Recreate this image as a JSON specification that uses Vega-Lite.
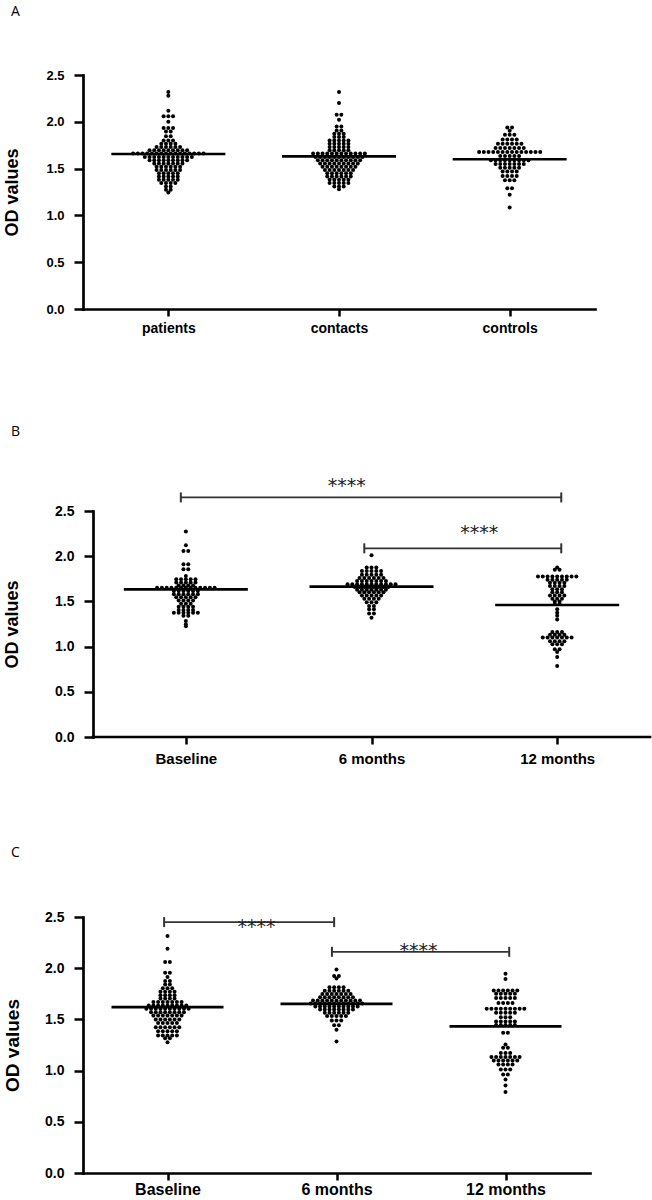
{
  "$schema": "https://vega.github.io/schema/vega-lite/v6.json",
  "background": "white",
  "padding": {"left": 2, "top": 5, "right": 0, "bottom": 0},
  "config": {
    "view": {"stroke": null},
    "axis": {"grid": false, "domainColor": "black", "domainWidth": 2.7, "domainCap": "square", "tickColor": "black", "tickWidth": 2.5, "labelFont": "Liberation Sans", "labelFontWeight": "bold", "labelColor": "black", "labelFlush": false, "labelOverlap": false, "titleFont": "Liberation Sans", "titleFontWeight": "bold", "titleColor": "black"},
    "axisX": {"tickSize": 7, "labelPadding": 5},
    "axisY": {"tickSize": 9, "labelPadding": 10, "titleBaseline": "middle"},
    "title": {"anchor": "start", "frame": "bounds", "fontSize": 14, "fontWeight": "normal", "font": "Open Sans", "color": "black"}
  },
  "datasets": {
    "ptsA": [
      {"g":"patients","v":2.318},{"g":"patients","v":2.279},{"g":"patients","v":2.118},{"g":"patients","v":2.058},{"g":"patients","v":2.058},{"g":"patients","v":2.058},{"g":"patients","v":2.0},{"g":"patients","v":1.934},{"g":"patients","v":1.934},{"g":"patients","v":1.934},{"g":"patients","v":1.897},{"g":"patients","v":1.897},{"g":"patients","v":1.846},{"g":"patients","v":1.846},
      {"g":"patients","v":1.8},{"g":"patients","v":1.8},{"g":"patients","v":1.8},
      {"g":"patients","v":1.765},{"g":"patients","v":1.765},{"g":"patients","v":1.765},{"g":"patients","v":1.765},
      {"g":"patients","v":1.73},{"g":"patients","v":1.73},{"g":"patients","v":1.73},{"g":"patients","v":1.73},{"g":"patients","v":1.73},{"g":"patients","v":1.73},
      {"g":"patients","v":1.695},{"g":"patients","v":1.695},{"g":"patients","v":1.695},{"g":"patients","v":1.695},{"g":"patients","v":1.695},{"g":"patients","v":1.695},{"g":"patients","v":1.695},{"g":"patients","v":1.695},{"g":"patients","v":1.695},
      {"g":"patients","v":1.66},{"g":"patients","v":1.66},{"g":"patients","v":1.66},{"g":"patients","v":1.66},{"g":"patients","v":1.66},{"g":"patients","v":1.66},{"g":"patients","v":1.66},{"g":"patients","v":1.66},{"g":"patients","v":1.66},{"g":"patients","v":1.66},{"g":"patients","v":1.66},{"g":"patients","v":1.66},{"g":"patients","v":1.66},{"g":"patients","v":1.66},{"g":"patients","v":1.66},{"g":"patients","v":1.66},
      {"g":"patients","v":1.625},{"g":"patients","v":1.625},{"g":"patients","v":1.625},{"g":"patients","v":1.625},{"g":"patients","v":1.625},{"g":"patients","v":1.625},{"g":"patients","v":1.625},{"g":"patients","v":1.625},{"g":"patients","v":1.625},{"g":"patients","v":1.625},{"g":"patients","v":1.625},
      {"g":"patients","v":1.59},{"g":"patients","v":1.59},{"g":"patients","v":1.59},{"g":"patients","v":1.59},{"g":"patients","v":1.59},{"g":"patients","v":1.59},{"g":"patients","v":1.59},{"g":"patients","v":1.59},{"g":"patients","v":1.59},
      {"g":"patients","v":1.555},{"g":"patients","v":1.555},{"g":"patients","v":1.555},{"g":"patients","v":1.555},{"g":"patients","v":1.555},{"g":"patients","v":1.555},{"g":"patients","v":1.555},
      {"g":"patients","v":1.52},{"g":"patients","v":1.52},{"g":"patients","v":1.52},{"g":"patients","v":1.52},{"g":"patients","v":1.52},{"g":"patients","v":1.52},
      {"g":"patients","v":1.485},{"g":"patients","v":1.485},{"g":"patients","v":1.485},{"g":"patients","v":1.485},{"g":"patients","v":1.485},{"g":"patients","v":1.485},
      {"g":"patients","v":1.45},{"g":"patients","v":1.45},{"g":"patients","v":1.45},{"g":"patients","v":1.45},{"g":"patients","v":1.45},
      {"g":"patients","v":1.415},{"g":"patients","v":1.415},{"g":"patients","v":1.415},{"g":"patients","v":1.415},{"g":"patients","v":1.415},
      {"g":"patients","v":1.38},{"g":"patients","v":1.38},{"g":"patients","v":1.38},{"g":"patients","v":1.38},{"g":"patients","v":1.38},
      {"g":"patients","v":1.345},{"g":"patients","v":1.345},{"g":"patients","v":1.345},{"g":"patients","v":1.345},
      {"g":"patients","v":1.31},{"g":"patients","v":1.31},{"g":"patients","v":1.275},{"g":"patients","v":1.275},{"g":"patients","v":1.245},
      {"g":"contacts","v":2.318},{"g":"contacts","v":2.2},{"g":"contacts","v":2.076},{"g":"contacts","v":2.076},{"g":"contacts","v":2.022},{"g":"contacts","v":1.95},{"g":"contacts","v":1.95},{"g":"contacts","v":1.908},{"g":"contacts","v":1.908},
      {"g":"contacts","v":1.873},{"g":"contacts","v":1.873},{"g":"contacts","v":1.873},{"g":"contacts","v":1.838},{"g":"contacts","v":1.838},{"g":"contacts","v":1.838},
      {"g":"contacts","v":1.8},{"g":"contacts","v":1.8},{"g":"contacts","v":1.8},{"g":"contacts","v":1.8},{"g":"contacts","v":1.8},
      {"g":"contacts","v":1.765},{"g":"contacts","v":1.765},{"g":"contacts","v":1.765},{"g":"contacts","v":1.765},{"g":"contacts","v":1.765},
      {"g":"contacts","v":1.73},{"g":"contacts","v":1.73},{"g":"contacts","v":1.73},{"g":"contacts","v":1.73},{"g":"contacts","v":1.73},
      {"g":"contacts","v":1.695},{"g":"contacts","v":1.695},{"g":"contacts","v":1.695},{"g":"contacts","v":1.695},{"g":"contacts","v":1.695},
      {"g":"contacts","v":1.66},{"g":"contacts","v":1.66},{"g":"contacts","v":1.66},{"g":"contacts","v":1.66},{"g":"contacts","v":1.66},{"g":"contacts","v":1.66},{"g":"contacts","v":1.66},{"g":"contacts","v":1.66},{"g":"contacts","v":1.66},{"g":"contacts","v":1.66},{"g":"contacts","v":1.66},{"g":"contacts","v":1.66},
      {"g":"contacts","v":1.625},{"g":"contacts","v":1.625},{"g":"contacts","v":1.625},{"g":"contacts","v":1.625},{"g":"contacts","v":1.625},{"g":"contacts","v":1.625},{"g":"contacts","v":1.625},{"g":"contacts","v":1.625},{"g":"contacts","v":1.625},{"g":"contacts","v":1.625},{"g":"contacts","v":1.625},
      {"g":"contacts","v":1.59},{"g":"contacts","v":1.59},{"g":"contacts","v":1.59},{"g":"contacts","v":1.59},{"g":"contacts","v":1.59},{"g":"contacts","v":1.59},{"g":"contacts","v":1.59},{"g":"contacts","v":1.59},{"g":"contacts","v":1.59},{"g":"contacts","v":1.59},
      {"g":"contacts","v":1.555},{"g":"contacts","v":1.555},{"g":"contacts","v":1.555},{"g":"contacts","v":1.555},{"g":"contacts","v":1.555},{"g":"contacts","v":1.555},{"g":"contacts","v":1.555},{"g":"contacts","v":1.555},{"g":"contacts","v":1.555},
      {"g":"contacts","v":1.52},{"g":"contacts","v":1.52},{"g":"contacts","v":1.52},{"g":"contacts","v":1.52},{"g":"contacts","v":1.52},{"g":"contacts","v":1.52},{"g":"contacts","v":1.52},{"g":"contacts","v":1.52},
      {"g":"contacts","v":1.485},{"g":"contacts","v":1.485},{"g":"contacts","v":1.485},{"g":"contacts","v":1.485},{"g":"contacts","v":1.485},{"g":"contacts","v":1.485},{"g":"contacts","v":1.485},
      {"g":"contacts","v":1.45},{"g":"contacts","v":1.45},{"g":"contacts","v":1.45},{"g":"contacts","v":1.45},{"g":"contacts","v":1.45},{"g":"contacts","v":1.45},
      {"g":"contacts","v":1.415},{"g":"contacts","v":1.415},{"g":"contacts","v":1.415},{"g":"contacts","v":1.415},{"g":"contacts","v":1.415},{"g":"contacts","v":1.415},
      {"g":"contacts","v":1.38},{"g":"contacts","v":1.38},{"g":"contacts","v":1.38},{"g":"contacts","v":1.38},{"g":"contacts","v":1.38},
      {"g":"contacts","v":1.345},{"g":"contacts","v":1.345},{"g":"contacts","v":1.345},{"g":"contacts","v":1.345},{"g":"contacts","v":1.345},
      {"g":"contacts","v":1.31},{"g":"contacts","v":1.31},{"g":"contacts","v":1.31},{"g":"contacts","v":1.28},
      {"g":"controls","v":1.94},{"g":"controls","v":1.94},{"g":"controls","v":1.905},{"g":"controls","v":1.862},{"g":"controls","v":1.862},{"g":"controls","v":1.862},
      {"g":"controls","v":1.81},{"g":"controls","v":1.81},{"g":"controls","v":1.81},{"g":"controls","v":1.81},
      {"g":"controls","v":1.765},{"g":"controls","v":1.765},{"g":"controls","v":1.765},{"g":"controls","v":1.765},{"g":"controls","v":1.765},{"g":"controls","v":1.765},
      {"g":"controls","v":1.72},{"g":"controls","v":1.72},{"g":"controls","v":1.72},{"g":"controls","v":1.72},{"g":"controls","v":1.72},{"g":"controls","v":1.72},{"g":"controls","v":1.72},
      {"g":"controls","v":1.677},{"g":"controls","v":1.677},{"g":"controls","v":1.677},{"g":"controls","v":1.677},{"g":"controls","v":1.677},{"g":"controls","v":1.677},{"g":"controls","v":1.677},{"g":"controls","v":1.677},{"g":"controls","v":1.677},{"g":"controls","v":1.677},{"g":"controls","v":1.677},{"g":"controls","v":1.677},{"g":"controls","v":1.677},{"g":"controls","v":1.677},
      {"g":"controls","v":1.635},{"g":"controls","v":1.635},{"g":"controls","v":1.635},{"g":"controls","v":1.635},{"g":"controls","v":1.635},
      {"g":"controls","v":1.59},{"g":"controls","v":1.59},{"g":"controls","v":1.59},{"g":"controls","v":1.59},{"g":"controls","v":1.59},{"g":"controls","v":1.59},{"g":"controls","v":1.59},{"g":"controls","v":1.59},{"g":"controls","v":1.59},
      {"g":"controls","v":1.55},{"g":"controls","v":1.55},{"g":"controls","v":1.55},{"g":"controls","v":1.55},{"g":"controls","v":1.55},{"g":"controls","v":1.55},{"g":"controls","v":1.55},
      {"g":"controls","v":1.51},{"g":"controls","v":1.51},{"g":"controls","v":1.51},{"g":"controls","v":1.51},{"g":"controls","v":1.51},
      {"g":"controls","v":1.47},{"g":"controls","v":1.47},{"g":"controls","v":1.47},{"g":"controls","v":1.47},
      {"g":"controls","v":1.42},{"g":"controls","v":1.42},{"g":"controls","v":1.42},{"g":"controls","v":1.42},
      {"g":"controls","v":1.375},{"g":"controls","v":1.375},{"g":"controls","v":1.375},{"g":"controls","v":1.29},{"g":"controls","v":1.29},{"g":"controls","v":1.22},{"g":"controls","v":1.085}
    ],
    "ptsB": [
      {"g":"Baseline","v":2.272},{"g":"Baseline","v":2.12},{"g":"Baseline","v":2.058},{"g":"Baseline","v":2.058},{"g":"Baseline","v":1.91},{"g":"Baseline","v":1.91},{"g":"Baseline","v":1.855},{"g":"Baseline","v":1.855},{"g":"Baseline","v":1.78},
      {"g":"Baseline","v":1.745},{"g":"Baseline","v":1.745},{"g":"Baseline","v":1.745},{"g":"Baseline","v":1.745},{"g":"Baseline","v":1.745},
      {"g":"Baseline","v":1.71},{"g":"Baseline","v":1.71},{"g":"Baseline","v":1.71},{"g":"Baseline","v":1.71},{"g":"Baseline","v":1.71},
      {"g":"Baseline","v":1.675},{"g":"Baseline","v":1.675},{"g":"Baseline","v":1.675},{"g":"Baseline","v":1.675},
      {"g":"Baseline","v":1.65},{"g":"Baseline","v":1.65},{"g":"Baseline","v":1.65},{"g":"Baseline","v":1.65},{"g":"Baseline","v":1.65},{"g":"Baseline","v":1.65},{"g":"Baseline","v":1.65},{"g":"Baseline","v":1.65},{"g":"Baseline","v":1.65},{"g":"Baseline","v":1.65},{"g":"Baseline","v":1.65},{"g":"Baseline","v":1.65},{"g":"Baseline","v":1.65},
      {"g":"Baseline","v":1.615},{"g":"Baseline","v":1.615},{"g":"Baseline","v":1.615},{"g":"Baseline","v":1.615},{"g":"Baseline","v":1.615},{"g":"Baseline","v":1.615},
      {"g":"Baseline","v":1.58},{"g":"Baseline","v":1.58},{"g":"Baseline","v":1.58},{"g":"Baseline","v":1.58},{"g":"Baseline","v":1.58},{"g":"Baseline","v":1.58},
      {"g":"Baseline","v":1.545},{"g":"Baseline","v":1.545},{"g":"Baseline","v":1.545},{"g":"Baseline","v":1.545},{"g":"Baseline","v":1.545},
      {"g":"Baseline","v":1.51},{"g":"Baseline","v":1.51},{"g":"Baseline","v":1.51},{"g":"Baseline","v":1.51},
      {"g":"Baseline","v":1.475},{"g":"Baseline","v":1.475},{"g":"Baseline","v":1.475},
      {"g":"Baseline","v":1.44},{"g":"Baseline","v":1.44},{"g":"Baseline","v":1.44},{"g":"Baseline","v":1.44},
      {"g":"Baseline","v":1.405},{"g":"Baseline","v":1.405},{"g":"Baseline","v":1.405},{"g":"Baseline","v":1.405},
      {"g":"Baseline","v":1.375},{"g":"Baseline","v":1.375},{"g":"Baseline","v":1.375},{"g":"Baseline","v":1.375},{"g":"Baseline","v":1.375},{"g":"Baseline","v":1.375},
      {"g":"Baseline","v":1.34},{"g":"Baseline","v":1.34},{"g":"Baseline","v":1.283},{"g":"Baseline","v":1.247},{"g":"Baseline","v":1.225},
      {"g":"6 months","v":2.01},{"g":"6 months","v":1.874},{"g":"6 months","v":1.874},{"g":"6 months","v":1.874},
      {"g":"6 months","v":1.836},{"g":"6 months","v":1.836},{"g":"6 months","v":1.836},{"g":"6 months","v":1.836},{"g":"6 months","v":1.836},
      {"g":"6 months","v":1.795},{"g":"6 months","v":1.795},{"g":"6 months","v":1.795},{"g":"6 months","v":1.795},{"g":"6 months","v":1.795},
      {"g":"6 months","v":1.76},{"g":"6 months","v":1.76},{"g":"6 months","v":1.76},{"g":"6 months","v":1.76},{"g":"6 months","v":1.76},{"g":"6 months","v":1.76},
      {"g":"6 months","v":1.725},{"g":"6 months","v":1.725},{"g":"6 months","v":1.725},{"g":"6 months","v":1.725},{"g":"6 months","v":1.725},{"g":"6 months","v":1.725},{"g":"6 months","v":1.725},
      {"g":"6 months","v":1.69},{"g":"6 months","v":1.69},{"g":"6 months","v":1.69},{"g":"6 months","v":1.69},{"g":"6 months","v":1.69},{"g":"6 months","v":1.69},{"g":"6 months","v":1.69},{"g":"6 months","v":1.69},{"g":"6 months","v":1.69},{"g":"6 months","v":1.69},{"g":"6 months","v":1.69},
      {"g":"6 months","v":1.66},{"g":"6 months","v":1.66},{"g":"6 months","v":1.66},{"g":"6 months","v":1.66},{"g":"6 months","v":1.66},{"g":"6 months","v":1.66},{"g":"6 months","v":1.66},{"g":"6 months","v":1.66},
      {"g":"6 months","v":1.63},{"g":"6 months","v":1.63},{"g":"6 months","v":1.63},{"g":"6 months","v":1.63},{"g":"6 months","v":1.63},{"g":"6 months","v":1.63},{"g":"6 months","v":1.63},
      {"g":"6 months","v":1.6},{"g":"6 months","v":1.6},{"g":"6 months","v":1.6},{"g":"6 months","v":1.6},{"g":"6 months","v":1.6},{"g":"6 months","v":1.6},
      {"g":"6 months","v":1.565},{"g":"6 months","v":1.565},{"g":"6 months","v":1.565},{"g":"6 months","v":1.565},{"g":"6 months","v":1.565},
      {"g":"6 months","v":1.53},{"g":"6 months","v":1.53},{"g":"6 months","v":1.53},{"g":"6 months","v":1.53},
      {"g":"6 months","v":1.49},{"g":"6 months","v":1.49},{"g":"6 months","v":1.49},{"g":"6 months","v":1.45},{"g":"6 months","v":1.45},{"g":"6 months","v":1.412},{"g":"6 months","v":1.412},{"g":"6 months","v":1.365},{"g":"6 months","v":1.365},{"g":"6 months","v":1.32},
      {"g":"12 months","v":1.874},{"g":"12 months","v":1.85},{"g":"12 months","v":1.85},
      {"g":"12 months","v":1.775},{"g":"12 months","v":1.775},{"g":"12 months","v":1.775},{"g":"12 months","v":1.775},{"g":"12 months","v":1.775},{"g":"12 months","v":1.775},{"g":"12 months","v":1.775},{"g":"12 months","v":1.775},{"g":"12 months","v":1.775},
      {"g":"12 months","v":1.74},{"g":"12 months","v":1.74},{"g":"12 months","v":1.74},{"g":"12 months","v":1.74},{"g":"12 months","v":1.74},
      {"g":"12 months","v":1.705},{"g":"12 months","v":1.705},{"g":"12 months","v":1.705},{"g":"12 months","v":1.705},
      {"g":"12 months","v":1.67},{"g":"12 months","v":1.67},{"g":"12 months","v":1.67},{"g":"12 months","v":1.67},
      {"g":"12 months","v":1.635},{"g":"12 months","v":1.635},{"g":"12 months","v":1.635},
      {"g":"12 months","v":1.6},{"g":"12 months","v":1.6},{"g":"12 months","v":1.6},
      {"g":"12 months","v":1.565},{"g":"12 months","v":1.565},{"g":"12 months","v":1.565},{"g":"12 months","v":1.565},
      {"g":"12 months","v":1.53},{"g":"12 months","v":1.53},{"g":"12 months","v":1.53},
      {"g":"12 months","v":1.5},{"g":"12 months","v":1.5},{"g":"12 months","v":1.47},{"g":"12 months","v":1.47},
      {"g":"12 months","v":1.412},{"g":"12 months","v":1.375},{"g":"12 months","v":1.34},{"g":"12 months","v":1.3},
      {"g":"12 months","v":1.161},{"g":"12 months","v":1.161},{"g":"12 months","v":1.161},
      {"g":"12 months","v":1.13},{"g":"12 months","v":1.13},{"g":"12 months","v":1.13},{"g":"12 months","v":1.13},
      {"g":"12 months","v":1.1},{"g":"12 months","v":1.1},{"g":"12 months","v":1.1},{"g":"12 months","v":1.1},{"g":"12 months","v":1.1},{"g":"12 months","v":1.1},{"g":"12 months","v":1.1},
      {"g":"12 months","v":1.06},{"g":"12 months","v":1.06},{"g":"12 months","v":1.06},{"g":"12 months","v":1.06},
      {"g":"12 months","v":1.025},{"g":"12 months","v":1.025},{"g":"12 months","v":1.025},
      {"g":"12 months","v":0.97},{"g":"12 months","v":0.97},{"g":"12 months","v":0.94},{"g":"12 months","v":0.885},{"g":"12 months","v":0.785}
    ],
    "ptsC": [
      {"g":"Baseline","v":2.314},{"g":"Baseline","v":2.19},{"g":"Baseline","v":2.06},{"g":"Baseline","v":2.06},{"g":"Baseline","v":1.955},{"g":"Baseline","v":1.955},{"g":"Baseline","v":1.913},{"g":"Baseline","v":1.874},{"g":"Baseline","v":1.874},{"g":"Baseline","v":1.84},{"g":"Baseline","v":1.84},
      {"g":"Baseline","v":1.805},{"g":"Baseline","v":1.805},{"g":"Baseline","v":1.805},
      {"g":"Baseline","v":1.77},{"g":"Baseline","v":1.77},{"g":"Baseline","v":1.77},{"g":"Baseline","v":1.77},
      {"g":"Baseline","v":1.737},{"g":"Baseline","v":1.737},{"g":"Baseline","v":1.737},{"g":"Baseline","v":1.737},
      {"g":"Baseline","v":1.704},{"g":"Baseline","v":1.704},{"g":"Baseline","v":1.704},{"g":"Baseline","v":1.704},
      {"g":"Baseline","v":1.669},{"g":"Baseline","v":1.669},{"g":"Baseline","v":1.669},{"g":"Baseline","v":1.669},{"g":"Baseline","v":1.669},{"g":"Baseline","v":1.669},{"g":"Baseline","v":1.669},
      {"g":"Baseline","v":1.636},{"g":"Baseline","v":1.636},{"g":"Baseline","v":1.636},{"g":"Baseline","v":1.636},{"g":"Baseline","v":1.636},{"g":"Baseline","v":1.636},{"g":"Baseline","v":1.636},{"g":"Baseline","v":1.636},{"g":"Baseline","v":1.636},
      {"g":"Baseline","v":1.603},{"g":"Baseline","v":1.603},{"g":"Baseline","v":1.603},{"g":"Baseline","v":1.603},{"g":"Baseline","v":1.603},{"g":"Baseline","v":1.603},{"g":"Baseline","v":1.603},{"g":"Baseline","v":1.603},{"g":"Baseline","v":1.603},{"g":"Baseline","v":1.603},
      {"g":"Baseline","v":1.571},{"g":"Baseline","v":1.571},{"g":"Baseline","v":1.571},{"g":"Baseline","v":1.571},{"g":"Baseline","v":1.571},{"g":"Baseline","v":1.571},{"g":"Baseline","v":1.571},{"g":"Baseline","v":1.571},
      {"g":"Baseline","v":1.538},{"g":"Baseline","v":1.538},{"g":"Baseline","v":1.538},{"g":"Baseline","v":1.538},{"g":"Baseline","v":1.538},{"g":"Baseline","v":1.538},{"g":"Baseline","v":1.538},
      {"g":"Baseline","v":1.5},{"g":"Baseline","v":1.5},{"g":"Baseline","v":1.5},{"g":"Baseline","v":1.5},{"g":"Baseline","v":1.5},{"g":"Baseline","v":1.5},
      {"g":"Baseline","v":1.466},{"g":"Baseline","v":1.466},{"g":"Baseline","v":1.466},{"g":"Baseline","v":1.466},{"g":"Baseline","v":1.466},
      {"g":"Baseline","v":1.424},{"g":"Baseline","v":1.424},{"g":"Baseline","v":1.424},{"g":"Baseline","v":1.424},{"g":"Baseline","v":1.424},{"g":"Baseline","v":1.424},
      {"g":"Baseline","v":1.385},{"g":"Baseline","v":1.385},{"g":"Baseline","v":1.385},{"g":"Baseline","v":1.385},{"g":"Baseline","v":1.385},
      {"g":"Baseline","v":1.343},{"g":"Baseline","v":1.343},{"g":"Baseline","v":1.343},{"g":"Baseline","v":1.343},{"g":"Baseline","v":1.343},
      {"g":"Baseline","v":1.315},{"g":"Baseline","v":1.315},{"g":"Baseline","v":1.278},
      {"g":"6 months","v":1.988},{"g":"6 months","v":1.923},{"g":"6 months","v":1.923},{"g":"6 months","v":1.9},
      {"g":"6 months","v":1.815},{"g":"6 months","v":1.815},{"g":"6 months","v":1.815},{"g":"6 months","v":1.815},
      {"g":"6 months","v":1.781},{"g":"6 months","v":1.781},{"g":"6 months","v":1.781},{"g":"6 months","v":1.781},{"g":"6 months","v":1.781},{"g":"6 months","v":1.781},
      {"g":"6 months","v":1.749},{"g":"6 months","v":1.749},{"g":"6 months","v":1.749},{"g":"6 months","v":1.749},{"g":"6 months","v":1.749},{"g":"6 months","v":1.749},{"g":"6 months","v":1.749},
      {"g":"6 months","v":1.716},{"g":"6 months","v":1.716},{"g":"6 months","v":1.716},{"g":"6 months","v":1.716},{"g":"6 months","v":1.716},{"g":"6 months","v":1.716},{"g":"6 months","v":1.716},{"g":"6 months","v":1.716},
      {"g":"6 months","v":1.685},{"g":"6 months","v":1.685},{"g":"6 months","v":1.685},{"g":"6 months","v":1.685},{"g":"6 months","v":1.685},{"g":"6 months","v":1.685},{"g":"6 months","v":1.685},{"g":"6 months","v":1.685},{"g":"6 months","v":1.685},{"g":"6 months","v":1.685},{"g":"6 months","v":1.685},
      {"g":"6 months","v":1.655},{"g":"6 months","v":1.655},{"g":"6 months","v":1.655},{"g":"6 months","v":1.655},{"g":"6 months","v":1.655},{"g":"6 months","v":1.655},{"g":"6 months","v":1.655},{"g":"6 months","v":1.655},{"g":"6 months","v":1.655},{"g":"6 months","v":1.655},{"g":"6 months","v":1.655},{"g":"6 months","v":1.655},
      {"g":"6 months","v":1.625},{"g":"6 months","v":1.625},{"g":"6 months","v":1.625},{"g":"6 months","v":1.625},{"g":"6 months","v":1.625},{"g":"6 months","v":1.625},{"g":"6 months","v":1.625},{"g":"6 months","v":1.625},{"g":"6 months","v":1.625},{"g":"6 months","v":1.625},
      {"g":"6 months","v":1.597},{"g":"6 months","v":1.597},{"g":"6 months","v":1.597},{"g":"6 months","v":1.597},{"g":"6 months","v":1.597},{"g":"6 months","v":1.597},{"g":"6 months","v":1.597},{"g":"6 months","v":1.597},
      {"g":"6 months","v":1.565},{"g":"6 months","v":1.565},{"g":"6 months","v":1.565},{"g":"6 months","v":1.565},{"g":"6 months","v":1.565},{"g":"6 months","v":1.565},
      {"g":"6 months","v":1.532},{"g":"6 months","v":1.532},{"g":"6 months","v":1.532},{"g":"6 months","v":1.532},{"g":"6 months","v":1.532},
      {"g":"6 months","v":1.49},{"g":"6 months","v":1.49},{"g":"6 months","v":1.49},{"g":"6 months","v":1.444},{"g":"6 months","v":1.444},{"g":"6 months","v":1.4},{"g":"6 months","v":1.285},
      {"g":"12 months","v":1.946},{"g":"12 months","v":1.895},
      {"g":"12 months","v":1.783},{"g":"12 months","v":1.783},{"g":"12 months","v":1.783},{"g":"12 months","v":1.783},{"g":"12 months","v":1.783},{"g":"12 months","v":1.783},
      {"g":"12 months","v":1.75},{"g":"12 months","v":1.75},{"g":"12 months","v":1.75},{"g":"12 months","v":1.75},{"g":"12 months","v":1.75},
      {"g":"12 months","v":1.71},{"g":"12 months","v":1.71},{"g":"12 months","v":1.71},{"g":"12 months","v":1.71},{"g":"12 months","v":1.71},
      {"g":"12 months","v":1.66},{"g":"12 months","v":1.66},{"g":"12 months","v":1.66},{"g":"12 months","v":1.66},
      {"g":"12 months","v":1.603},{"g":"12 months","v":1.603},{"g":"12 months","v":1.603},{"g":"12 months","v":1.603},{"g":"12 months","v":1.603},{"g":"12 months","v":1.603},{"g":"12 months","v":1.603},{"g":"12 months","v":1.603},{"g":"12 months","v":1.603},
      {"g":"12 months","v":1.565},{"g":"12 months","v":1.565},{"g":"12 months","v":1.565},{"g":"12 months","v":1.565},{"g":"12 months","v":1.565},
      {"g":"12 months","v":1.52},{"g":"12 months","v":1.52},{"g":"12 months","v":1.52},
      {"g":"12 months","v":1.48},{"g":"12 months","v":1.48},{"g":"12 months","v":1.48},{"g":"12 months","v":1.48},{"g":"12 months","v":1.48},
      {"g":"12 months","v":1.445},{"g":"12 months","v":1.445},{"g":"12 months","v":1.445},{"g":"12 months","v":1.445},{"g":"12 months","v":1.445},
      {"g":"12 months","v":1.369},{"g":"12 months","v":1.369},{"g":"12 months","v":1.255},{"g":"12 months","v":1.222},{"g":"12 months","v":1.222},
      {"g":"12 months","v":1.173},{"g":"12 months","v":1.173},{"g":"12 months","v":1.173},
      {"g":"12 months","v":1.134},{"g":"12 months","v":1.134},{"g":"12 months","v":1.134},{"g":"12 months","v":1.134},{"g":"12 months","v":1.134},{"g":"12 months","v":1.134},{"g":"12 months","v":1.134},
      {"g":"12 months","v":1.098},{"g":"12 months","v":1.098},{"g":"12 months","v":1.098},{"g":"12 months","v":1.098},{"g":"12 months","v":1.098},{"g":"12 months","v":1.098},
      {"g":"12 months","v":1.059},{"g":"12 months","v":1.059},{"g":"12 months","v":1.059},{"g":"12 months","v":1.059},
      {"g":"12 months","v":1.01},{"g":"12 months","v":1.01},{"g":"12 months","v":1.01},
      {"g":"12 months","v":0.961},{"g":"12 months","v":0.961},{"g":"12 months","v":0.912},{"g":"12 months","v":0.854},{"g":"12 months","v":0.792}
    ],
    "lineA": [{"g":"patients","m":1.656},{"g":"contacts","m":1.63},{"g":"controls","m":1.6}],
    "lineB": [{"g":"Baseline","m":1.634},{"g":"6 months","m":1.664},{"g":"12 months","m":1.46}],
    "lineC": [{"g":"Baseline","m":1.62},{"g":"6 months","m":1.652},{"g":"12 months","m":1.431}],
    "brB": [{"x1":-0.027,"x2":2.022,"y":2.65,"tx":0.866,"ty":2.83,"label":"****"},{"x1":0.961,"x2":2.022,"y":2.087,"tx":1.58,"ty":2.316,"label":"****"}],
    "brC": [{"x1":-0.02,"x2":0.986,"y":2.45,"tx":0.527,"ty":2.45,"label":"****"},{"x1":0.973,"x2":2.022,"y":2.16,"tx":1.485,"ty":2.216,"label":"****"}]
  },
  "columns": 1,
  "spacing": 90,
  "align": "none",
  "concat": [
    {
      "width": 512, "height": 234,
      "title": {"text": "A", "offset": 50, "dx": 8},
      "layer": [
        {
          "data": {"name": "ptsA"},
          "transform": [
            {"calculate": "indexof(['patients','contacts','controls'], datum.g)", "as": "i"},
            {"window": [{"op": "row_number", "as": "k"}, {"op": "count", "as": "n"}], "groupby": ["g", "v"], "frame": [null, null]},
            {"calculate": "datum.i + (datum.k - (datum.n + 1) / 2) * 4.7 / 170.7", "as": "xp"}
          ],
          "mark": {"type": "circle", "size": 16, "color": "black", "opacity": 1},
          "encoding": {
            "x": {"field": "xp", "type": "quantitative", "scale": {"domain": [-0.5, 2.5], "nice": false, "zero": false},
                  "axis": {"title": null, "values": [0, 1, 2], "labelExpr": "['patients','contacts','controls'][datum.value]", "labelFontSize": 14}},
            "y": {"field": "v", "type": "quantitative", "scale": {"domain": [0, 2.5], "nice": false},
                  "axis": {"title": "OD values", "values": [0, 0.5, 1, 1.5, 2, 2.5], "format": ".1f", "titleFontSize": 18, "titleX": -71, "labelFontSize": 13}}
          }
        },
        {
          "data": {"name": "lineA"},
          "transform": [{"calculate": "indexof(['patients','contacts','controls'], datum.g)", "as": "i"}],
          "mark": {"type": "tick", "orient": "horizontal", "size": 114, "thickness": 2.7, "color": "black", "opacity": 1},
          "encoding": {
            "x": {"field": "i", "type": "quantitative", "scale": {"domain": [-0.5, 2.5], "nice": false, "zero": false}},
            "y": {"field": "m", "type": "quantitative", "scale": {"domain": [0, 2.5], "nice": false}}
          }
        }
      ]
    },
    {
      "columns": 1,
      "spacing": 80,
      "align": "none",
      "concat": [
        {
          "width": 567, "height": 226,
          "title": {"text": "B", "offset": 38, "dx": 8},
          "layer": [
            {
              "data": {"name": "ptsB"},
              "transform": [
                {"calculate": "indexof(['Baseline','6 months','12 months'], datum.g)", "as": "i"},
                {"window": [{"op": "row_number", "as": "k"}, {"op": "count", "as": "n"}], "groupby": ["g", "v"], "frame": [null, null]},
                {"calculate": "datum.i + (datum.k - (datum.n + 1) / 2) * 4.8 / 185.7", "as": "xp"}
              ],
              "mark": {"type": "circle", "size": 16, "color": "black", "opacity": 1},
              "encoding": {
                "x": {"field": "xp", "type": "quantitative", "scale": {"domain": [-0.554, 2.5], "nice": false, "zero": false},
                      "axis": {"title": null, "domain": false, "values": [0, 1, 2], "labelExpr": "['Baseline','6 months','12 months'][datum.value]", "labelFontSize": 15, "labelPadding": 7}},
                "y": {"field": "v", "type": "quantitative", "scale": {"domain": [0, 2.5], "nice": false},
                      "axis": {"title": "OD values", "values": [0, 0.5, 1, 1.5, 2, 2.5], "format": ".1f", "titleFontSize": 18, "titleX": -81, "offset": -10, "labelFontSize": 14}}
              }
            },
            {
              "data": {"values": [{}]},
              "mark": {"type": "rule", "color": "black", "strokeWidth": 2.7, "strokeCap": "square"},
              "encoding": {
                "x": {"datum": -0.5, "type": "quantitative", "scale": {"domain": [-0.554, 2.5], "nice": false, "zero": false}},
                "x2": {"datum": 2.5},
                "y": {"datum": 0, "type": "quantitative", "scale": {"domain": [0, 2.5], "nice": false}}
              }
            },
            {
              "data": {"name": "lineB"},
              "transform": [{"calculate": "indexof(['Baseline','6 months','12 months'], datum.g)", "as": "i"}],
              "mark": {"type": "tick", "orient": "horizontal", "size": 124, "thickness": 2.7, "color": "black", "opacity": 1},
              "encoding": {
                "x": {"field": "i", "type": "quantitative", "scale": {"domain": [-0.554, 2.5], "nice": false, "zero": false}},
                "y": {"field": "m", "type": "quantitative", "scale": {"domain": [0, 2.5], "nice": false}}
              }
            },
            {
              "data": {"name": "brB"},
              "mark": {"type": "rule", "color": "#333333", "strokeWidth": 1.8},
              "encoding": {
                "x": {"field": "x1", "type": "quantitative", "scale": {"domain": [-0.554, 2.5], "nice": false, "zero": false}},
                "x2": {"field": "x2"},
                "y": {"field": "y", "type": "quantitative", "scale": {"domain": [0, 2.5], "nice": false}}
              }
            },
            {
              "data": {"name": "brB"},
              "transform": [{"fold": ["x1", "x2"], "as": ["end", "xe"]}],
              "mark": {"type": "tick", "orient": "vertical", "size": 10, "thickness": 2, "color": "#333333", "opacity": 1},
              "encoding": {
                "x": {"field": "xe", "type": "quantitative", "scale": {"domain": [-0.554, 2.5], "nice": false, "zero": false}},
                "y": {"field": "y", "type": "quantitative", "scale": {"domain": [0, 2.5], "nice": false}}
              }
            },
            {
              "data": {"name": "brB"},
              "mark": {"type": "text", "font": "DejaVu Sans", "fontSize": 19, "color": "#222222", "baseline": "alphabetic", "dy": 11},
              "encoding": {
                "x": {"field": "tx", "type": "quantitative", "scale": {"domain": [-0.554, 2.5], "nice": false, "zero": false}},
                "y": {"field": "ty", "type": "quantitative", "scale": {"domain": [0, 2.5], "nice": false}},
                "text": {"field": "label"}
              }
            }
          ]
        },
        {
          "width": 507, "height": 256,
          "title": {"text": "C", "offset": 50, "dx": 8},
          "layer": [
            {
              "data": {"name": "ptsC"},
              "transform": [
                {"calculate": "indexof(['Baseline','6 months','12 months'], datum.g)", "as": "i"},
                {"window": [{"op": "row_number", "as": "k"}, {"op": "count", "as": "n"}], "groupby": ["g", "v"], "frame": [null, null]},
                {"calculate": "datum.i + (datum.k - (datum.n + 1) / 2) * 4.7 / 169", "as": "xp"}
              ],
              "mark": {"type": "circle", "size": 16, "color": "black", "opacity": 1},
              "encoding": {
                "x": {"field": "xp", "type": "quantitative", "scale": {"domain": [-0.5, 2.5], "nice": false, "zero": false},
                      "axis": {"title": null, "values": [0, 1, 2], "labelExpr": "['Baseline','6 months','12 months'][datum.value]", "labelFontSize": 16, "labelPadding": 1}},
                "y": {"field": "v", "type": "quantitative", "scale": {"domain": [0, 2.5], "nice": false},
                      "axis": {"title": "OD values", "values": [0, 0.5, 1, 1.5, 2, 2.5], "format": ".1f", "titleFontSize": 19, "titleX": -71, "labelFontSize": 14}}
              }
            },
            {
              "data": {"name": "lineC"},
              "transform": [{"calculate": "indexof(['Baseline','6 months','12 months'], datum.g)", "as": "i"}],
              "mark": {"type": "tick", "orient": "horizontal", "size": 112, "thickness": 2.7, "color": "black", "opacity": 1},
              "encoding": {
                "x": {"field": "i", "type": "quantitative", "scale": {"domain": [-0.5, 2.5], "nice": false, "zero": false}},
                "y": {"field": "m", "type": "quantitative", "scale": {"domain": [0, 2.5], "nice": false}}
              }
            },
            {
              "data": {"name": "brC"},
              "mark": {"type": "rule", "color": "#333333", "strokeWidth": 1.8},
              "encoding": {
                "x": {"field": "x1", "type": "quantitative", "scale": {"domain": [-0.5, 2.5], "nice": false, "zero": false}},
                "x2": {"field": "x2"},
                "y": {"field": "y", "type": "quantitative", "scale": {"domain": [0, 2.5], "nice": false}}
              }
            },
            {
              "data": {"name": "brC"},
              "transform": [{"fold": ["x1", "x2"], "as": ["end", "xe"]}],
              "mark": {"type": "tick", "orient": "vertical", "size": 10, "thickness": 2, "color": "#333333", "opacity": 1},
              "encoding": {
                "x": {"field": "xe", "type": "quantitative", "scale": {"domain": [-0.5, 2.5], "nice": false, "zero": false}},
                "y": {"field": "y", "type": "quantitative", "scale": {"domain": [0, 2.5], "nice": false}}
              }
            },
            {
              "data": {"name": "brC"},
              "mark": {"type": "text", "font": "DejaVu Sans", "fontSize": 19, "color": "#222222", "baseline": "alphabetic", "dy": 11},
              "encoding": {
                "x": {"field": "tx", "type": "quantitative", "scale": {"domain": [-0.5, 2.5], "nice": false, "zero": false}},
                "y": {"field": "ty", "type": "quantitative", "scale": {"domain": [0, 2.5], "nice": false}},
                "text": {"field": "label"}
              }
            }
          ]
        }
      ]
    }
  ]
}
